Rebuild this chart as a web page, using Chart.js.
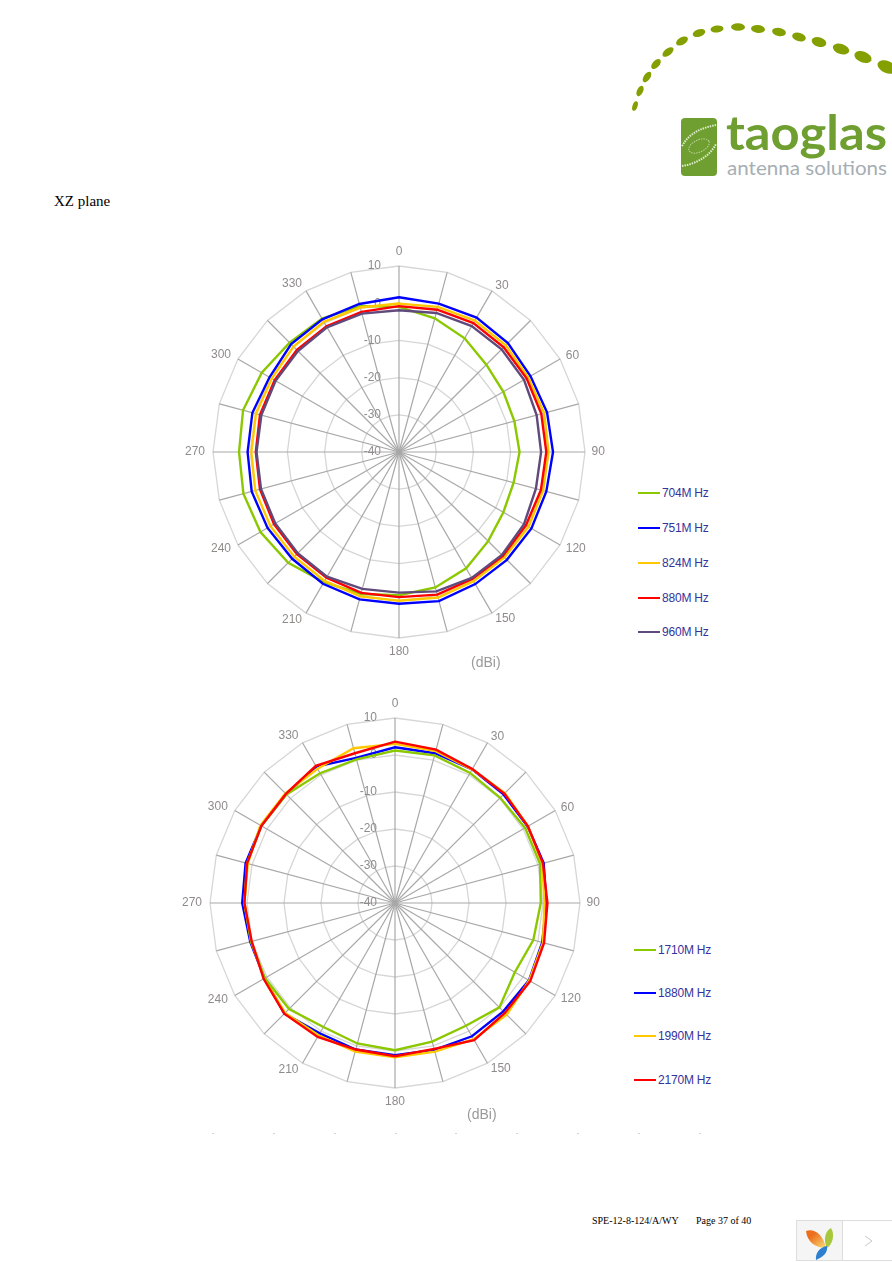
<!DOCTYPE html>
<html>
<head>
<meta charset="utf-8">
<title>XZ plane</title>
<script src="https://cdn.jsdelivr.net/npm/chart.js@4/dist/chart.umd.min.js"></script>
<style>
  html, body { margin: 0; padding: 0; background: #fff; }
  #page { position: relative; width: 892px; height: 1262px; overflow: hidden; }
  canvas { position: absolute; }
  .txt { position: absolute; white-space: nowrap; }
  .serif { font-family: "Liberation Serif", serif; color: #000; }
  .unit { font: 14px "Liberation Sans", Arial, sans-serif; color: #9a9a9a; }
  .leg-line { position: absolute; height: 2px; width: 22px; }
  .leg-text { position: absolute; font: 12px "Liberation Sans", Arial, sans-serif; color: #34349a; white-space: nowrap; letter-spacing: -0.2px; }
  .foot-dot { position: absolute; top: 1133px; width: 2px; height: 1px; background: #d4d4d4; }
  svg { position: absolute; }
</style>
</head>
<body>
<div id="page">
  <svg id="logo" style="left:620px;top:0" width="272" height="190"></svg>
  <div class="txt serif" style="left:54px;top:193px;font-size:15px">XZ plane</div>

  <canvas id="chartTop" width="460" height="460" style="left:169px;top:222px"></canvas>
  <canvas id="chartBottom" width="458" height="458" style="left:166px;top:674px"></canvas>
  <div class="txt unit" style="left:471px;top:654px">(dBi)</div>
  <div class="txt unit" style="left:467px;top:1106px">(dBi)</div>

  <div id="legendTop"></div>
  <div id="legendBottom"></div>
  <div id="footDots"></div>

  <div class="txt serif" style="left:592px;top:1215px;font-size:10px">SPE-12-8-124/A/WY</div>
  <div class="txt serif" style="left:696px;top:1215px;font-size:10px">Page 37 of 40</div>

  <div style="position:absolute;left:796px;top:1220px;width:95px;height:39px;border:1px solid #ddd;background:#fff"></div>
  <div style="position:absolute;left:797px;top:1221px;width:45px;height:39px;background:#f5f5f5;border-right:1px solid #ddd"></div>
  <svg style="left:796px;top:1220px" width="96" height="42">
    <defs>
      <linearGradient id="petal" x1="0" y1="0" x2="1" y2="1">
        <stop offset="0.3" stop-color="#ec6f1e"/>
        <stop offset="1" stop-color="#f7df7a"/>
      </linearGradient>
    </defs>
    <path d="M10 11 C18 8 27 14 30 28 C20 28 11 22 10 11Z" fill="url(#petal)"/>
    <path d="M35 8 C39 14 37 24 31 28 C27 20 29 11 35 8Z" fill="#a8c83c"/>
    <path d="M31 26 C32 33 27 37 20 40 C19 33 24 27 31 26Z" fill="#2f7fd0"/>
    <path d="M69 16 L76 21 L69 26" fill="none" stroke="#c8c8c8" stroke-width="1"/>
  </svg>
</div>

<script>
var angleLabels = ["0","","30","","60","","90","","120","","150","","180","","210","","240","","270","","300","","330",""];
var tickValues = [-40,-30,-20,-10,0,10];

// top plot, one value every 15 degrees starting at 0
var top704  = [-1.0,-2.8,-4.7,-6.8,-7.6,-7.9,-7.6,-8.1,-7.6,-6.1,-3.9,-2.3,-1.5,-0.5,0.4,2.1,3.0,3.3,3.0,3.4,2.6,1.6,1.4,0.6];
var top751  = [1.6,1.3,1.7,1.4,0.8,1.2,1.4,1.0,1.1,1.0,1.0,1.5,0.8,1.0,0.9,0.6,0.8,1.0,0.7,0.8,0.2,1.0,1.2,1.2];
var top824  = [-0.1,0.4,0.8,0.6,0.1,0.4,0.2,0.1,0.2,0.1,0.1,0.5,0.0,0.2,0.0,-0.2,-0.1,0.0,-0.3,-0.2,-0.5,0.1,0.4,0.2];
var top880  = [-0.8,-0.4,0.0,-0.2,-0.4,-0.4,-0.4,-0.5,-0.6,-0.5,-0.6,-0.3,-1.0,-0.8,-1.0,-1.2,-1.2,-1.3,-1.5,-1.3,-1.4,-1.2,-1.0,-1.0];
var top960  = [-1.9,-1.3,-0.9,-1.0,-1.2,-1.7,-1.8,-1.9,-1.2,-0.9,-0.9,-1.2,-2.2,-1.9,-1.3,-1.5,-1.6,-1.6,-1.7,-1.7,-1.7,-1.6,-1.3,-1.5];

var bottom1710 = [1.2,1.3,0.6,0.2,0.6,0.6,-0.6,-1.3,-2.6,-0.1,-1.7,-1.2,-0.2,-0.7,-1.3,0.5,0.6,0.3,0.7,1.4,1.7,1.5,0.5,0.2];
var bottom1880 = [2.1,1.9,1.7,1.5,1.4,1.6,0.9,1.2,1.8,1.4,1.6,1.1,1.1,1.0,0.7,2.3,0.7,0.5,1.3,1.8,1.7,1.6,2.6,0.6];
var bottom1990 = [3.0,2.5,1.7,2.0,1.5,1.2,0.4,1.4,1.9,2.7,2.5,1.6,1.7,1.6,1.3,2.0,0.8,0.2,0.7,1.2,2.0,1.9,1.9,3.3];
var bottom2170 = [3.6,2.9,1.8,1.8,1.5,1.4,1.2,1.7,2.2,2.0,2.8,0.8,1.4,1.0,1.8,2.3,1.0,0.1,0.7,1.4,1.7,1.7,2.8,1.9];

var topNames = ["704M Hz","751M Hz","824M Hz","880M Hz","960M Hz"];
var topColors = ["#8cc800","#0000ff","#ffc800","#ff0000","#604a7b"];
var bottomNames = ["1710M Hz","1880M Hz","1990M Hz","2170M Hz"];
var bottomColors = ["#8cc800","#0000ff","#ffc800","#ff0000"];

var labelColor = "#8f8b8b";

// tick and angle text sits where the original has it, not where chart.js puts it
var polarText = {
  id: "polarText",
  beforeDatasetsDraw: function (chart) {
    var s = chart.scales.r;
    var ctx = chart.ctx;
    ctx.save();
    ctx.font = '12px "Liberation Sans", Arial, sans-serif';
    ctx.fillStyle = labelColor;
    ctx.textBaseline = "middle";
    ctx.textAlign = "right";
    tickValues.forEach(function (v) {
      ctx.fillText(String(v), s.xCenter - 18, s.yCenter - s.getDistanceFromCenterForValue(v));
    });
    angleLabels.forEach(function (name, i) {
      if (!name) return;
      var onAxis = name === "0" || name === "180";
      var onLeft = i > 12;
      var p = s.getPointPosition(i, s.drawingArea + (onAxis ? 14 : (onLeft ? 8 : 6.5)));
      ctx.textAlign = onAxis ? "center" : (onLeft ? "right" : "left");
      ctx.fillText(name, p.x, p.y);
    });
    ctx.restore();
  }
};

function makeChart(id, names, colors, series, orders) {
  var datasets = series.map(function (values, i) {
    return {
      label: names[i],
      data: values,
      borderColor: colors[i],
      backgroundColor: "transparent",
      borderWidth: 2.4,
      pointRadius: 0,
      fill: false,
      tension: 0,
      order: orders[i]
    };
  });
  return new Chart(document.getElementById(id), {
    type: "radar",
    data: { labels: angleLabels, datasets: datasets },
    plugins: [polarText],
    options: {
      responsive: false,
      animation: false,
      layout: { padding: 44 },
      plugins: { legend: { display: false }, tooltip: { enabled: false } },
      scales: {
        r: {
          min: -40,
          max: 10,
          ticks: { display: false, stepSize: 10 },
          pointLabels: { display: false },
          grid: { color: "#d6d6d6", lineWidth: 1.3 },
          angleLines: { color: "#a8a8a8", lineWidth: 1.2 }
        }
      }
    }
  });
}

function makeLegend(id, names, colors, lineX, textX, rows) {
  var box = document.getElementById(id);
  names.forEach(function (name, i) {
    var line = document.createElement("div");
    line.className = "leg-line";
    line.style.left = lineX + "px";
    line.style.top = (rows[i] - 1) + "px";
    line.style.background = colors[i];
    box.appendChild(line);
    var label = document.createElement("div");
    label.className = "leg-text";
    label.style.left = textX + "px";
    label.style.top = (rows[i] - 7) + "px";
    label.textContent = name;
    box.appendChild(label);
  });
}

makeChart("chartTop", topNames, topColors, [top704, top751, top824, top880, top960], [5, 4, 3, 2, 1]);
makeChart("chartBottom", bottomNames, bottomColors, [bottom1710, bottom1880, bottom1990, bottom2170], [2, 4, 3, 1]);
makeLegend("legendTop", topNames, topColors, 638, 662, [493, 528, 563, 598, 632]);
makeLegend("legendBottom", bottomNames, bottomColors, 634, 658, [950, 993, 1036, 1080]);

// faint scan marks under the lower plot
[212, 273, 334, 395, 455, 516, 577, 638, 699].forEach(function (x) {
  var dot = document.createElement("div");
  dot.className = "foot-dot";
  dot.style.left = x + "px";
  document.getElementById("footDots").appendChild(dot);
});

// page furniture: logo drawn by hand as svg
var logoDots = [[15,106,5,10,-72],[20,91,6,11,-64],[27,77,6.5,12,-56],[36,64,7,12,-48],[48,52,7,13,-38],[62,41,7.5,13,-30],[79,33,7.5,13,-18],[97,29,7,13,-6],[118,27,7.5,14,2],[138,29,8,14,6],[159,32,8,14,10],[179,37,8.5,14,15],[199,42,9.5,15,17],[221,49,10,17,19],[243,57,11,18,22],[267,67,12,20,24]];
var logoSvg = "";
logoDots.forEach(function (d) {
  logoSvg += '<ellipse cx="' + d[0] + '" cy="' + d[1] + '" rx="' + d[3] / 2 + '" ry="' + d[2] / 2 +
    '" fill="#83a000" transform="rotate(' + d[4] + ' ' + d[0] + ' ' + d[1] + ')"/>';
});
logoSvg += '<rect x="61" y="118" width="36" height="58" rx="4" fill="#6f9f30"/>';
logoSvg += '<path d="M62 146 C70 132 82 128 96 125" fill="none" stroke="#dfeccd" stroke-width="2" stroke-dasharray="1.5 1"/>';
logoSvg += '<path d="M62 166 C76 164 90 156 96 144" fill="none" stroke="#dfeccd" stroke-width="2" stroke-dasharray="1.5 1"/>';
logoSvg += '<ellipse cx="79" cy="146" rx="11" ry="6" transform="rotate(-25 79 146)" fill="none" stroke="#bcd59a" stroke-width="1" stroke-dasharray="1.5 1"/>';
logoSvg += '<text x="106" y="150" textLength="161" lengthAdjust="spacingAndGlyphs" font-family="Lato, \'Open Sans\', sans-serif" font-weight="700" font-size="47" fill="#6f9f30">taoglas</text>';
logoSvg += '<text x="107" y="175" textLength="160" lengthAdjust="spacingAndGlyphs" font-family="Lato, \'Open Sans\', sans-serif" font-size="20" fill="#a6aeb3">antenna solutions</text>';
document.getElementById("logo").innerHTML = logoSvg;
</script>
</body>
</html>
